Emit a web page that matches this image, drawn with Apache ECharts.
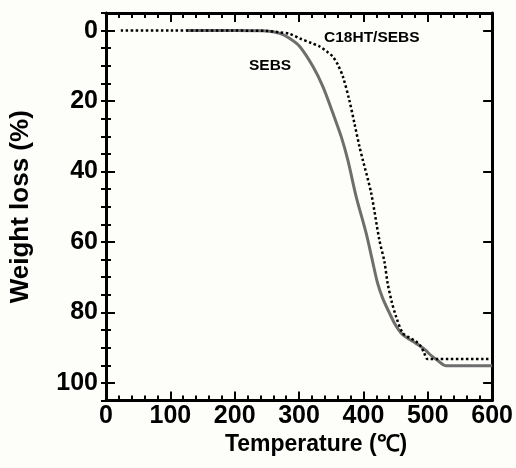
<!DOCTYPE html>
<html>
<head>
<meta charset="utf-8">
<script src="https://cdn.jsdelivr.net/npm/echarts@6/dist/echarts.min.js"></script>
<style>
html,body{margin:0;padding:0;background:#fdfdfa;}
#c{width:516px;height:468px;}
</style>
</head>
<body>
<div id="c"></div>
<script>
// Data
const sebsTemp = [125, 200, 250, 270, 285, 301, 321.6, 337, 352.5, 365.5, 375.7, 388.7, 404.2, 413, 422, 430, 440, 448, 455, 461, 470, 480, 487, 497, 505, 515, 528, 600];
const sebsLoss = [0, 0, 0.1, 0.8, 2.2, 4.5, 10.2, 15.9, 23.4, 30.1, 36.7, 47.1, 57.5, 64.5, 71.7, 76, 80, 83, 85, 86.3, 87.5, 88.6, 89.4, 90.8, 92.2, 93.6, 95.1, 95.1];
const c18Temp = [23, 100, 200, 250, 270, 285, 301, 320, 332, 345, 352.5, 360, 368, 378, 386, 393.8, 399, 412, 424.7, 432.5, 437.6, 444, 450.6, 460.8, 470, 481.5, 489, 494.4, 499.5, 600];
const c18Loss = [0, 0, 0, 0.1, 0.5, 0.9, 2.2, 3.6, 4.5, 6.2, 7.4, 9.6, 13, 19.7, 26.3, 32.9, 36.7, 46.1, 59.4, 65.5, 71.7, 77, 81.1, 85.8, 87, 88.2, 89.6, 91.5, 93.2, 93.2];
const yMajorTicks = [0, 20, 40, 60, 80, 100];
const seriesNames = ['SEBS', 'C18HT/SEBS'];

const sebsData = sebsTemp.map((t, i) => [t, sebsLoss[i]]);
const c18Data = c18Temp.map((t, i) => [t, c18Loss[i]]);

const FONT = '"Liberation Sans", Arial, sans-serif';
const BLK = '#000';

function xAx(pos, showLabel) {
  return {
    type: 'value', position: pos, min: 0, max: 600, interval: 100,
    axisLine: {show: true, onZero: false, lineStyle: {color: BLK, width: 3}},
    axisTick: {show: true, inside: true, length: 9, lineStyle: {color: BLK, width: 2}},
    minorTick: {show: true, splitNumber: 5, length: 5, lineStyle: {color: BLK, width: 2}},
    splitLine: {show: false}, minorSplitLine: {show: false},
    axisLabel: {show: showLabel, color: BLK, fontFamily: FONT, fontWeight: 'bold', fontSize: 25, margin: 3}
  };
}
function yMajor(pos, showLabel) {
  return {
    type: 'value', position: pos, inverse: true, min: -5, max: 105, interval: 5,
    axisLine: {show: true, onZero: false, lineStyle: {color: BLK, width: 3}},
    axisTick: {show: true, inside: true, length: 9, customValues: yMajorTicks, lineStyle: {color: BLK, width: 2}},
    splitLine: {show: false},
    axisLabel: {show: showLabel, customValues: yMajorTicks, color: BLK, fontFamily: FONT, fontWeight: 'bold', fontSize: 25, margin: 8}
  };
}
function yMinor(pos) {
  return {
    type: 'value', position: pos, inverse: true, min: -5, max: 105, interval: 5,
    axisLine: {show: false},
    axisTick: {show: true, inside: true, length: 5, lineStyle: {color: BLK, width: 2}},
    splitLine: {show: false},
    axisLabel: {show: false}
  };
}

const chart = echarts.init(document.getElementById('c'), null, {renderer: 'canvas'});
const xBottom = xAx('bottom', true);
xBottom.name = 'Temperature (℃)';
xBottom.nameLocation = 'middle';
xBottom.nameGap = 27;
xBottom.nameTextStyle = {color: BLK, fontFamily: FONT, fontWeight: 'bold', fontSize: 23, padding: [0, 0, 0, 34]};
const yLeft = yMajor('left', true);
yLeft.name = 'Weight loss (%)';
yLeft.nameLocation = 'middle';
yLeft.nameGap = 72;
yLeft.nameTextStyle = {color: BLK, fontFamily: FONT, fontWeight: 'bold', fontSize: 26};

chart.setOption({
  backgroundColor: '#fdfdfa',
  animation: false,
  grid: {left: 105.5, right: 22.5, top: 13, bottom: 67.5, containLabel: false},
  xAxis: [xBottom, xAx('top', false)],
  yAxis: [yLeft, yMinor('left'), yMajor('right', false), yMinor('right')],
  series: [
    {name: seriesNames[0], type: 'line', xAxisIndex: 0, yAxisIndex: 0, data: sebsData, showSymbol: false,
     smooth: 0.3,
     lineStyle: {color: '#6e6e6e', width: 3}, z: 2},
    {name: seriesNames[1], type: 'line', xAxisIndex: 0, yAxisIndex: 0, data: c18Data, showSymbol: false,
     smooth: 0.3,
     lineStyle: {color: '#000', width: 2.5, type: [2.5, 2.5]}, z: 3}
  ],
  graphic: [
    {type: 'text', left: 324, top: 30, style: {text: seriesNames[1], fill: BLK, font: 'bold 15.5px ' + FONT}},
    {type: 'text', left: 249, top: 58, style: {text: seriesNames[0], fill: BLK, font: 'bold 15.5px ' + FONT}}
  ]
});
</script>
</body>
</html>
